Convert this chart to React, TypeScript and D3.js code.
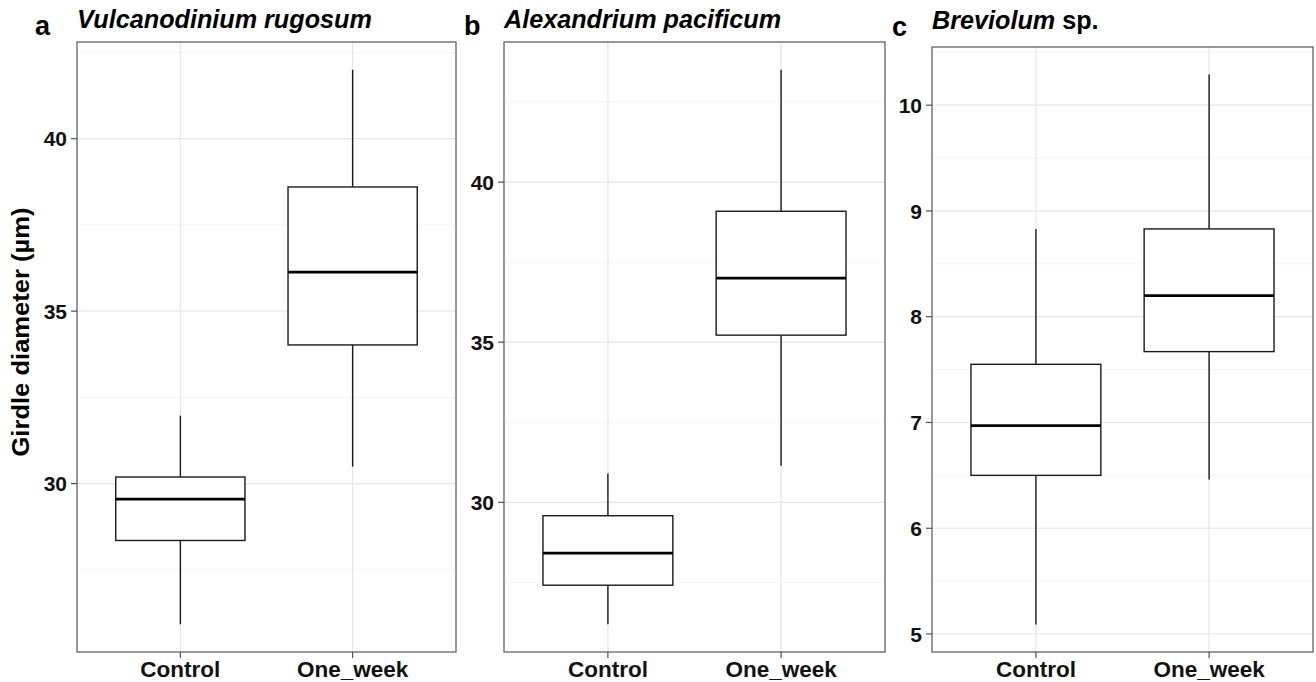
import React from 'react'
import * as d3 from 'd3'

// groups on the x axis
const categories = ['Control', 'One_week']

// box stats: [lower whisker, Q1, median, Q3, upper whisker]
const vulcanoControl = [25.92, 28.35, 29.55, 30.19, 31.97]
const vulcanoWeek = [30.49, 34.02, 36.13, 38.6, 42.0]

const alexControl = [26.19, 27.41, 28.41, 29.58, 30.9]
const alexWeek = [31.14, 35.22, 37.0, 39.09, 43.51]

const brevControl = [5.09, 6.5, 6.97, 7.55, 8.83]
const brevWeek = [6.46, 7.67, 8.2, 8.83, 10.29]

// y tick labels per panel
const vulcanoTicks = [30, 35, 40]
const alexTicks = [30, 35, 40]
const brevTicks = [5, 6, 7, 8, 9, 10]

const font = "'Liberation Sans', Arial, sans-serif"

type PanelProps = {
	letter: string
	title: React.ReactNode
	boxes: number[][]
	ticks: number[]
	left: number
	right: number
	top: number
	bottom: number
	titleY: number
	letterX: number
}

const Panel = ({ letter, title, boxes, ticks, left, right, top, bottom, titleY, letterX }: PanelProps) => {
	const lo = d3.min(boxes, (b) => b[0])!
	const hi = d3.max(boxes, (b) => b[4])!
	const pad = (hi - lo) * 0.05 // ggplot default expansion

	const y = d3.scaleLinear().domain([lo - pad, hi + pad]).range([bottom, top])

	// discrete x: positions 1..n, expanded by 0.6 each side
	const x = d3
		.scaleLinear()
		.domain([0.4, categories.length + 0.6])
		.range([left, right])
	const boxHalf = x(1.375) - x(1)

	const step = ticks[1] - ticks[0]
	const minor = [ticks[0] - step / 2, ...ticks.map((t) => t + step / 2)].filter(
		(v) => v > y.domain()[0] && v < y.domain()[1]
	)

	return (
		<g>
			<text x={letterX} y={titleY + 7} fontFamily={font} fontWeight="bold" fontSize={27}>
				{letter}
			</text>
			<text x={left} y={titleY} fontFamily={font} fontWeight="bold" fontSize={25.2}>
				{title}
			</text>
			<rect x={left} y={top} width={right - left} height={bottom - top} fill="white" />
			{minor.map((v) => (
				<line key={'mi' + v} x1={left} x2={right} y1={y(v)} y2={y(v)} stroke="#f2f2f2" strokeWidth={0.8} />
			))}
			{ticks.map((v) => (
				<line key={'ma' + v} x1={left} x2={right} y1={y(v)} y2={y(v)} stroke="#e6e6e6" strokeWidth={1.2} />
			))}
			{categories.map((c, i) => (
				<line key={'vg' + c} x1={x(i + 1)} x2={x(i + 1)} y1={top} y2={bottom} stroke="#e6e6e6" strokeWidth={1.2} />
			))}
			{boxes.map((b, i) => {
				const cx = x(i + 1)
				return (
					<g key={'box' + i} stroke="#1a1a1a" fill="white">
						<line x1={cx} x2={cx} y1={y(b[4])} y2={y(b[3])} strokeWidth={1.4} />
						<line x1={cx} x2={cx} y1={y(b[1])} y2={y(b[0])} strokeWidth={1.4} />
						<rect x={cx - boxHalf} y={y(b[3])} width={boxHalf * 2} height={y(b[1]) - y(b[3])} strokeWidth={1.4} />
						<line x1={cx - boxHalf} x2={cx + boxHalf} y1={y(b[2])} y2={y(b[2])} stroke="#000" strokeWidth={2.8} />
					</g>
				)
			})}
			<rect x={left} y={top} width={right - left} height={bottom - top} fill="none" stroke="#555" strokeWidth={1.2} />
			{ticks.map((v) => (
				<g key={'t' + v}>
					<line x1={left - 6} x2={left} y1={y(v)} y2={y(v)} stroke="#444" strokeWidth={1.1} />
					<text
						x={left - 10}
						y={y(v)}
						dy="0.36em"
						textAnchor="end"
						fontFamily={font}
						fontWeight="bold"
						fontSize={21}
						fill="#111"
					>
						{v}
					</text>
				</g>
			))}
			{categories.map((c, i) => (
				<g key={'xt' + c}>
					<line x1={x(i + 1)} x2={x(i + 1)} y1={bottom} y2={bottom + 6} stroke="#444" strokeWidth={1.1} />
					<text
						x={x(i + 1)}
						y={bottom + 25}
						textAnchor="middle"
						fontFamily={font}
						fontWeight="bold"
						fontSize={22.5}
						fill="#111"
					>
						{c}
					</text>
				</g>
			))}
		</g>
	)
}

const App = () => {
	return (
		<svg
			width={1316}
			height={682}
			style={{ position: 'absolute', left: 0, top: 0, background: 'white' }}
		>
			<rect width={1316} height={682} fill="white" />
			<text
				transform="translate(29,332) rotate(-90)"
				textAnchor="middle"
				fontFamily={font}
				fontWeight="bold"
				fontSize={23}
				textLength={249}
				lengthAdjust="spacingAndGlyphs"
			>
				Girdle diameter (µm)
			</text>
			<Panel
				letter="a"
				title={<tspan fontStyle="italic">Vulcanodinium rugosum</tspan>}
				boxes={[vulcanoControl, vulcanoWeek]}
				ticks={vulcanoTicks}
				left={77}
				right={456}
				top={42}
				bottom={652}
				titleY={28}
				letterX={35}
			/>
			<Panel
				letter="b"
				title={<tspan fontStyle="italic">Alexandrium pacificum</tspan>}
				boxes={[alexControl, alexWeek]}
				ticks={alexTicks}
				left={504}
				right={885}
				top={42}
				bottom={652}
				titleY={28}
				letterX={464}
			/>
			<Panel
				letter="c"
				title={
					<>
						<tspan fontStyle="italic">Breviolum</tspan>
						<tspan> sp.</tspan>
					</>
				}
				boxes={[brevControl, brevWeek]}
				ticks={brevTicks}
				left={932}
				right={1313}
				top={47}
				bottom={652}
				titleY={29}
				letterX={892}
			/>
		</svg>
	)
}

export default App
